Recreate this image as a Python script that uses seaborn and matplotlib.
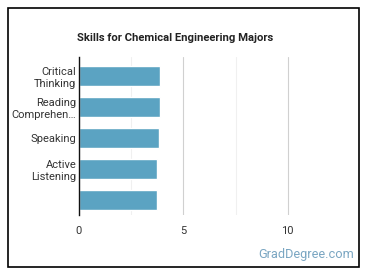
import matplotlib
matplotlib.use("Agg")
import matplotlib.pyplot as plt
import matplotlib.patches as mpatches
import pandas as pd
import seaborn as sns

# data
skills = ["Critical\nThinking", "Reading\nComprehen\u2026", "Speaking",
          "Active\nListening", " "]
scores = [3.88, 3.88, 3.83, 3.73, 3.73]
x_ticks = [0, 5, 10]

df = pd.DataFrame({"skill": skills, "score": scores})

sns.set_theme(style="white")
plt.rcParams['font.family'] = ['Roboto', 'DejaVu Sans']

fig = plt.figure(figsize=(3.7, 2.78), dpi=100)
ax = fig.add_axes([0.2135, 0.2266, 0.705, 0.5684])

sns.barplot(data=df, x="score", y="skill", orient="h", color="#5ba3c2",
            saturation=1, width=0.65, ax=ax)

ax.set_xlim(0, 12.5)
ax.set_ylim(4.48, -0.61)
ax.set_xticks(x_ticks)
ax.set_xticks([2.5, 7.5], minor=True)
ax.grid(axis="x", which="major", color="#d0d0d0", linewidth=0.8)
ax.grid(axis="x", which="minor", color="#f0f0f0", linewidth=0.8)
ax.set_axisbelow(True)
ax.set_xlabel("")
ax.set_ylabel("")
ax.tick_params(axis="both", length=0, labelsize=8, colors="#333333")
ax.tick_params(axis="y", pad=2)
ax.tick_params(axis="x", pad=8)
for lbl in ax.get_yticklabels():
    lbl.set_linespacing(1.3)

for side in ["top", "right", "bottom"]:
    ax.spines[side].set_visible(False)
ax.spines["left"].set_color("#111111")
ax.spines["left"].set_linewidth(1.0)

fig.text(0.473, 0.862, "Skills for Chemical Engineering Majors",
         ha="center", va="center", fontsize=8.1, fontweight="bold",
         color="#222222")
fig.text(0.957, 0.083, "GradDegree.com", ha="right", va="center",
         fontsize=9.2, color="#7aa6c2")

# outer frame
fig.patches.append(mpatches.Rectangle((8 / 370, 1 - 267 / 278),
                                      351 / 370, 259 / 278,
                                      transform=fig.transFigure,
                                      fill=False, edgecolor="black",
                                      linewidth=1.2))

fig.savefig("out.png", dpi=100)
